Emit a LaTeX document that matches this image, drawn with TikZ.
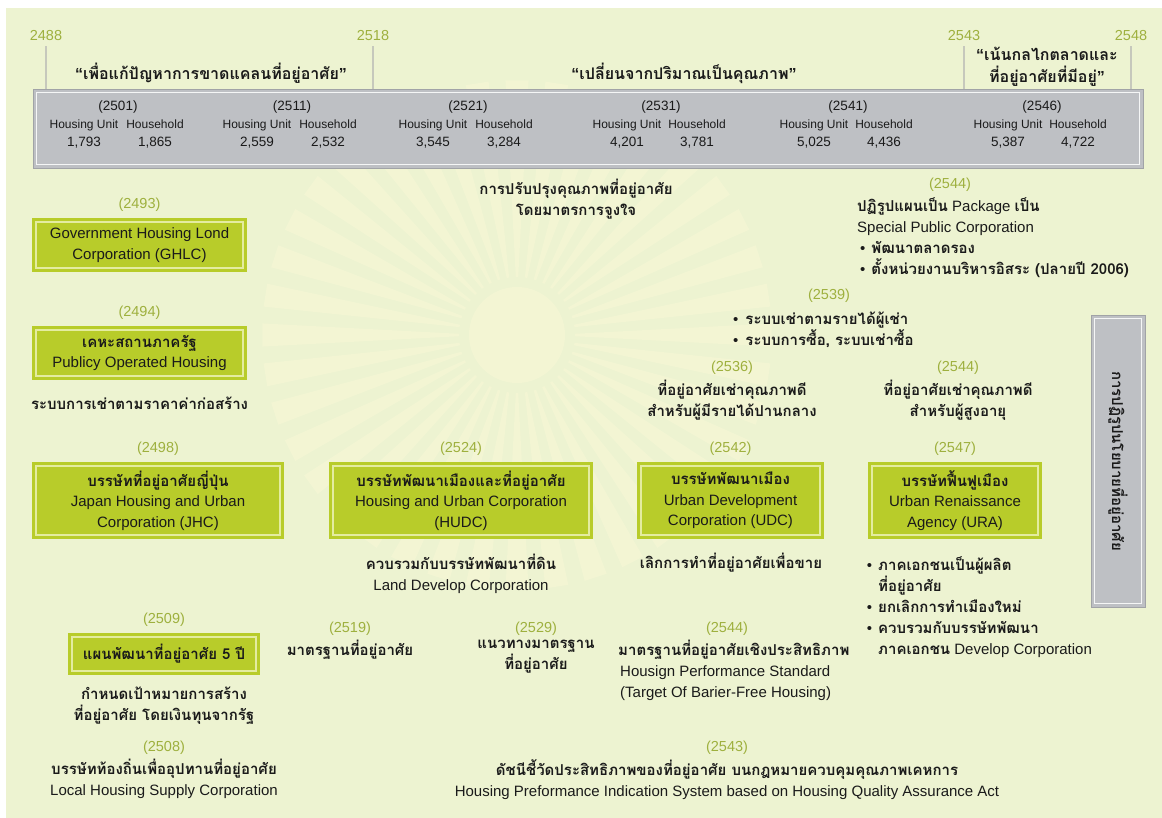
\documentclass[tikz,border=0pt]{standalone}
\usepackage{fontspec}
\setmainfont{Liberation Sans}
\newfontfamily\thaifont[Script=Thai]{Loma}
\newcommand{\tht}[1]{{\thaifont\bfseries #1}}
\usetikzlibrary{positioning}

\definecolor{bgc}{RGB}{237,243,209}
\definecolor{rayc}{RGB}{249,248,214}
\definecolor{lime}{RGB}{184,204,42}
\definecolor{limeline}{RGB}{228,236,160}
\definecolor{panel}{RGB}{190,192,196}
\definecolor{yeargreen}{RGB}{158,176,62}
\definecolor{ink}{RGB}{26,26,26}
\definecolor{tickc}{RGB}{198,200,188}

\begin{document}
\begin{tikzpicture}[
    x = 1pt, y = -1pt,
    every node/.style={text=ink, inner sep=0pt},
    yr/.style={text=yeargreen, font=\fontsize{14.5}{17}\selectfont},
    body/.style={font=\fontsize{15}{21}\selectfont, align=center},
    quote/.style={font=\fontsize{16}{22}\selectfont, align=center},
    small/.style={font=\fontsize{12}{14}\selectfont, anchor=base},
    num/.style={font=\fontsize{13.5}{15}\selectfont, anchor=base},
    tick/.style={draw=tickc, line width=1.5pt},
    agency/.style={rectangle, fill=lime, align=center, font=\fontsize{15}{20.5}\selectfont,
        path picture={\draw[limeline, line width=1.3pt]
            ([shift={(4pt,-4pt)}]path picture bounding box.north west) rectangle
            ([shift={(-4pt,4pt)}]path picture bounding box.south east);}},
    panelbox/.style={rectangle, fill=panel, draw=panel!85!black, line width=0.6pt,
        path picture={\draw[white!85!panel, line width=1.3pt]
            ([shift={(3.5pt,-3.5pt)}]path picture bounding box.north west) rectangle
            ([shift={(-3.5pt,3.5pt)}]path picture bounding box.south east);}}
]
\useasboundingbox (0,0) rectangle (1162,818);

% Page and watermark
\fill[white] (0,0) rectangle (1162,818);
\fill[bgc] (6,8) rectangle (1162,818);
\foreach \a in {0,9,...,351}
    \fill[rayc, opacity=0.5] (517,335) +(\a-1.2:58) -- +(\a-2.6:255) -- +(\a+2.6:255) -- +(\a+1.2:58) -- cycle;
\fill[rayc, opacity=0.5] (517,335) circle (48pt);

% Census panel
\node[panelbox, minimum width=1110pt, minimum height=79pt] (census) at (588,128.5) {};

\node[num] (c2501) at (118,111) {(2501)};
\node[small] (hu2501) at (84,129) {Housing Unit};
\node[small] (hh2501) at (155,129) {Household};
\node[num] (n2501a) at (hu2501 |- 0,147) {1,793};
\node[num] (n2501b) at (hh2501 |- 0,147) {1,865};

\node[num] (c2511) at (292,111) {(2511)};
\node[small] (hu2511) at (257,129) {Housing Unit};
\node[small] (hh2511) at (328,129) {Household};
\node[num] (n2511a) at (hu2511 |- 0,147) {2,559};
\node[num] (n2511b) at (hh2511 |- 0,147) {2,532};

\node[num] (c2521) at (468,111) {(2521)};
\node[small] (hu2521) at (433,129) {Housing Unit};
\node[small] (hh2521) at (504,129) {Household};
\node[num] (n2521a) at (hu2521 |- 0,147) {3,545};
\node[num] (n2521b) at (hh2521 |- 0,147) {3,284};

\node[num] (c2531) at (661,111) {(2531)};
\node[small] (hu2531) at (627,129) {Housing Unit};
\node[small] (hh2531) at (697,129) {Household};
\node[num] (n2531a) at (hu2531 |- 0,147) {4,201};
\node[num] (n2531b) at (hh2531 |- 0,147) {3,781};

\node[num] (c2541) at (848,111) {(2541)};
\node[small] (hu2541) at (814,129) {Housing Unit};
\node[small] (hh2541) at (884,129) {Household};
\node[num] (n2541a) at (hu2541 |- 0,147) {5,025};
\node[num] (n2541b) at (hh2541 |- 0,147) {4,436};

\node[num] (c2546) at (1042,111) {(2546)};
\node[small] (hu2546) at (1008,129) {Housing Unit};
\node[small] (hh2546) at (1078,129) {Household};
\node[num] (n2546a) at (hu2546 |- 0,147) {5,387};
\node[num] (n2546b) at (hh2546 |- 0,147) {4,722};

% Eras on top
\node[yr] (y2488) at (46,36) {2488};
\node[yr] (y2518) at (373,36) {2518};
\node[yr] (y2543) at (964,36) {2543};
\node[yr] (y2548) at (1131,36) {2548};

\draw[tick] ([yshift=-5pt]y2488.south) -- (y2488 |- census.north);
\draw[tick] ([yshift=-5pt]y2518.south) -- (y2518 |- census.north);
\draw[tick] ([yshift=-5pt]y2543.south) -- (y2543 |- census.north);
\draw[tick] ([yshift=-5pt]y2548.south) -- (y2548 |- census.north);

\node[quote] (era1) at (211,73) {{\bfseries “}\tht{เพื่อแก้ปัญหาการขาดแคลนที่อยู่อาศัย}{\bfseries ”}};
\node[quote] (era2) at (684,73) {{\bfseries “}\tht{เปลี่ยนจากปริมาณเป็นคุณภาพ}{\bfseries ”}};
\node[quote] (era3) at (1047,67) {{\bfseries “}\tht{เน้นกลไกตลาดและ}\\\tht{ที่อยู่อาศัยที่มีอยู่}{\bfseries ”}};

% Left column
\node[agency, minimum width=215pt, minimum height=54pt] (ghlc) at (139.5,245) {Government Housing Lond\\Corporation (GHLC)};
\node[yr] (y2493) [above=6pt of ghlc] {(2493)};

\node[agency, minimum width=215pt, minimum height=54pt] (poh) at (139.5,353) {\tht{เคหะสถานภาครัฐ}\\Publicy Operated Housing};
\node[yr] (y2494) [above=6pt of poh] {(2494)};
\node[body] (pohnote) at (139.5,403) {\tht{ระบบการเช่าตามราคาค่าก่อสร้าง}};

% Corporations row
\node[agency, minimum width=252pt, minimum height=77pt] (jhc) at (158,500.5) {\tht{บรรษัทที่อยู่อาศัยญี่ปุ่น}\\Japan Housing and Urban\\Corporation (JHC)};
\node[yr] (y2498) [above=6pt of jhc] {(2498)};

\node[agency, minimum width=264pt, minimum height=77pt] (hudc) at (461,500.5) {\tht{บรรษัทพัฒนาเมืองและที่อยู่อาศัย}\\Housing and Urban Corporation\\(HUDC)};
\node[yr] (y2524) [above=6pt of hudc] {(2524)};
\node[body] (hudcnote) at (461,574) {\tht{ควบรวมกับบรรษัทพัฒนาที่ดิน}\\Land Develop Corporation};

\node[agency, minimum width=187pt, minimum height=77pt] (udc) at (730.5,500.5) {\tht{บรรษัทพัฒนาเมือง}\\Urban Development\\Corporation (UDC)};
\node[yr] (y2542) [above=6pt of udc] {(2542)};
\node[body] (udcnote) at (731,563) {\tht{เลิกการทำที่อยู่อาศัยเพื่อขาย}};

\node[agency, minimum width=174pt, minimum height=77pt] (ura) at (955,500.5) {\tht{บรรษัทฟื้นฟูเมือง}\\Urban Renaissance\\Agency (URA)};
\node[yr] (y2547) [above=6pt of ura] {(2547)};
\node[body, align=left, anchor=west] (uranote) at (878,607) {\llap{\textbullet\hspace{6pt}}\tht{ภาคเอกชนเป็นผู้ผลิต}\\\tht{ที่อยู่อาศัย}\\\llap{\textbullet\hspace{6pt}}\tht{ยกเลิกการทำเมืองใหม่}\\\llap{\textbullet\hspace{6pt}}\tht{ควบรวมกับบรรษัทพัฒนา}\\\tht{ภาคเอกชน} Develop Corporation};

% Reform panel
\node[panelbox, minimum width=54pt, minimum height=292pt] (policy) at (1118,461) {};
\node[body, rotate=-90] (policytxt) at (policy.center) {\tht{การปฏิรูปนโยบายที่อยู่อาศัย}};

% Upper middle notes
\node[body] (incentive) at (576,199) {\tht{การปรับปรุงคุณภาพที่อยู่อาศัย}\\\tht{โดยมาตรการจูงใจ}};

\node[yr] (y2544a) at (950,185) {(2544)};
\node[body, align=left, anchor=west] (spc) at (857,238) {\tht{ปฏิรูปแผนเป็น} Package \tht{เป็น}\\Special Public Corporation\\\hspace{3pt}\textbullet\hspace{6pt}\tht{พัฒนาตลาดรอง}\\\hspace{3pt}\textbullet\hspace{6pt}\tht{ตั้งหน่วยงานบริหารอิสระ (ปลายปี 2006)}};

\node[yr] (y2539) at (829,296) {(2539)};
\node[body, align=left, anchor=west] (rent) at (733,330) {\textbullet\hspace{7pt}\tht{ระบบเช่าตามรายได้ผู้เช่า}\\\textbullet\hspace{7pt}\tht{ระบบการซื้อ, ระบบเช่าซื้อ}};

\node[yr] (y2536) at (732,368) {(2536)};
\node[body] (middle) [below=5pt of y2536] {\tht{ที่อยู่อาศัยเช่าคุณภาพดี}\\\tht{สำหรับผู้มีรายได้ปานกลาง}};

\node[yr] (y2544b) at (958,368) {(2544)};
\node[body] (elder) [below=5pt of y2544b] {\tht{ที่อยู่อาศัยเช่าคุณภาพดี}\\\tht{สำหรับผู้สูงอายุ}};

% Lower left
\node[agency, minimum width=192pt, minimum height=42pt] (plan5) at (164,654) {\tht{แผนพัฒนาที่อยู่อาศัย 5 ปี}};
\node[yr] (y2509) [above=6pt of plan5] {(2509)};
\node[body] (plan5note) at (164,706) {\tht{กำหนดเป้าหมายการสร้าง}\\\tht{ที่อยู่อาศัย โดยเงินทุนจากรัฐ}};

\node[yr] (y2508) at (164,748) {(2508)};
\node[body] (local) [below=4pt of y2508] {\tht{บรรษัทท้องถิ่นเพื่ออุปทานที่อยู่อาศัย}\\Local Housing Supply Corporation};

% Standards
\node[yr] (y2519) at (350,629) {(2519)};
\node[body] (std) [below=4pt of y2519] {\tht{มาตรฐานที่อยู่อาศัย}};

\node[yr] (y2529) at (536,629) {(2529)};
\node[body] (guide) [below=4pt of y2529] {\tht{แนวทางมาตรฐาน}\\\tht{ที่อยู่อาศัย}};

\node[yr] (y2544c) at (727,629) {(2544)};
\node[body, align=left, anchor=north west] (perf) at (618,640) {\tht{มาตรฐานที่อยู่อาศัยเชิงประสิทธิภาพ}\\\hspace{2pt}Housign Performance Standard\\\hspace{2pt}(Target Of Barier-Free Housing)};

\node[yr] (y2543b) at (727,748) {(2543)};
\node[body] (index) [below=4pt of y2543b] {\tht{ดัชนีชี้วัดประสิทธิภาพของที่อยู่อาศัย บนกฎหมายควบคุมคุณภาพเคหการ}\\Housing Preformance Indication System based on Housing Quality Assurance Act};

\end{tikzpicture}
\end{document}
